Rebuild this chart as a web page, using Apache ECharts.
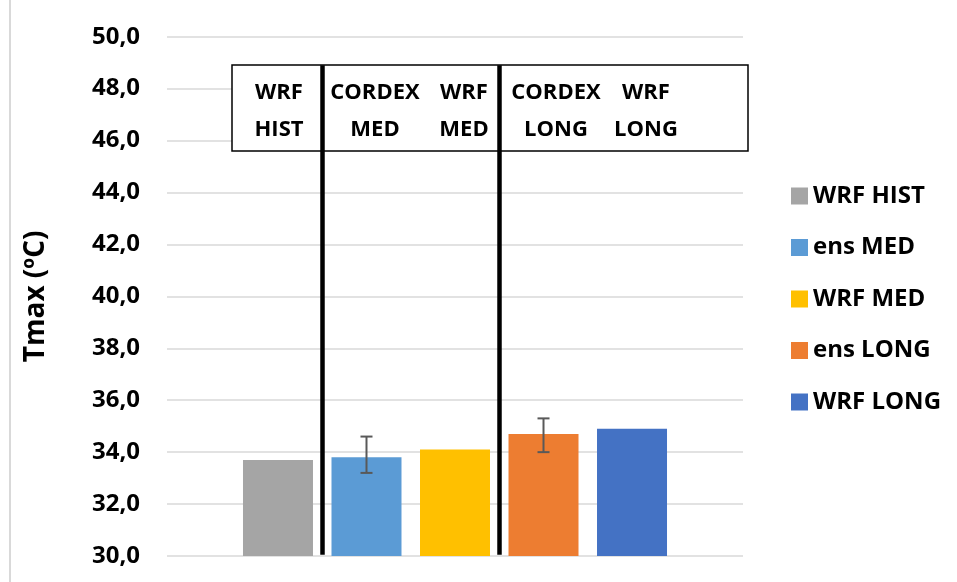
<!DOCTYPE html>
<html>
<head>
<meta charset="utf-8">
<script src="https://cdn.jsdelivr.net/npm/echarts@6/dist/echarts.min.js"></script>
<style>
html,body{margin:0;padding:0;background:#fff;}
#chart{width:957px;height:582px;}
</style>
</head>
<body>
<div id="chart"></div>
<script>
// ---- data ----
const seriesNames = ['WRF HIST', 'ens MED', 'WRF MED', 'ens LONG', 'WRF LONG'];
const seriesValues = [33.7, 33.8, 34.1, 34.7, 34.9];
const seriesColors = ['#A5A5A5', '#5B9BD5', '#FFC000', '#ED7D31', '#4472C4'];
const errorLow = [null, 33.2, null, 34.0, null];
const errorHigh = [null, 34.6, null, 35.3, null];
const dividerPositions = [1.5, 3.5];
const boxLabels = [['WRF', 'HIST'], ['CORDEX', 'MED'], ['WRF', 'MED'], ['CORDEX', 'LONG'], ['WRF', 'LONG']];
const yMin = 30, yMax = 50, yStep = 2;

const FONT = '"Open Sans", "Liberation Sans", sans-serif';
const chart = echarts.init(document.getElementById('chart'));

const barSeries = seriesNames.map((name, i) => ({
  name: name,
  type: 'bar',
  barWidth: 70,
  barGap: '-100%',
  itemStyle: { color: seriesColors[i] },
  data: [[i + 1, seriesValues[i]]],
  z: 2
}));

const errData = [];
errorLow.forEach((lo, i) => {
  if (lo != null) errData.push([i + 1, lo, errorHigh[i]]);
});

const errSeries = {
  type: 'custom',
  name: 'err',
  z: 5,
  renderItem: function (params, api) {
    const lo = api.coord([api.value(0), api.value(1)]);
    const hi = api.coord([api.value(0), api.value(2)]);
    const x = lo[0], hw = 6;
    const st = { stroke: '#595959', lineWidth: 2 };
    return {
      type: 'group',
      children: [
        { type: 'line', shape: { x1: x, y1: lo[1], x2: x, y2: hi[1] }, style: st },
        { type: 'line', shape: { x1: x - hw, y1: lo[1], x2: x + hw, y2: lo[1] }, style: st },
        { type: 'line', shape: { x1: x - hw, y1: hi[1], x2: x + hw, y2: hi[1] }, style: st }
      ]
    };
  },
  data: errData
};

const dividerSeries = {
  type: 'line',
  name: 'div',
  data: [],
  silent: true,
  markLine: {
    symbol: ['none', 'none'],
    silent: true,
    label: { show: false },
    lineStyle: { color: '#000', width: 4.5, type: 'solid' },
    data: dividerPositions.map(p => [{ coord: [p, 30.05] }, { coord: [p, 48.9] }])
  },
  z: 6
};

// annotation box text positions (centers) in px
const labelCenters = [279, 375, 464, 556, 646];
const graphics = [
  { type: 'line', shape: { x1: 10, y1: 0, x2: 10, y2: 582 }, style: { stroke: '#D9D9D9', lineWidth: 2 } },
  { type: 'rect', shape: { x: 232, y: 65, width: 516, height: 86 }, style: { fill: '#fff', stroke: '#000', lineWidth: 1.5 }, z: 4 }
];
boxLabels.forEach((lines, i) => {
  graphics.push({
    type: 'text', z: 7,
    style: {
      x: labelCenters[i], y: 111,
      text: lines.join('\n'),
      align: 'center', verticalAlign: 'middle',
      font: 'bold 22px ' + FONT,
      lineHeight: 37,
      fill: '#000'
    }
  });
});

chart.setOption({
  animation: false,
  backgroundColor: '#fff',
  grid: { left: 167, right: 214, top: 36.7, bottom: 26 },
  xAxis: {
    type: 'value',
    min: -0.254, max: 6.254,
    axisLine: { show: false }, axisTick: { show: false },
    axisLabel: { show: false }, splitLine: { show: false }
  },
  yAxis: {
    type: 'value',
    min: yMin, max: yMax, interval: yStep,
    name: 'Tmax (ºC)',
    nameLocation: 'middle',
    nameGap: 117,
    nameTextStyle: { fontFamily: FONT, fontWeight: 'bold', fontSize: 28, color: '#000' },
    axisLine: { show: false }, axisTick: { show: false },
    axisLabel: {
      margin: 27,
      fontFamily: FONT, fontWeight: 'bold', fontSize: 24, color: '#000',
      formatter: v => v.toFixed(1).replace('.', ',')
    },
    splitLine: { lineStyle: { color: '#D9D9D9', width: 1.5 } }
  },
  legend: {
    data: seriesNames,
    orient: 'vertical',
    left: 786, top: 179,
    itemWidth: 17, itemHeight: 17,
    itemGap: 27.5,
    icon: 'rect',
    textStyle: { fontFamily: FONT, fontWeight: 'bold', fontSize: 24, color: '#000', lineHeight: 24 }
  },
  graphic: graphics,
  series: barSeries.concat([errSeries, dividerSeries])
});
</script>
</body>
</html>
